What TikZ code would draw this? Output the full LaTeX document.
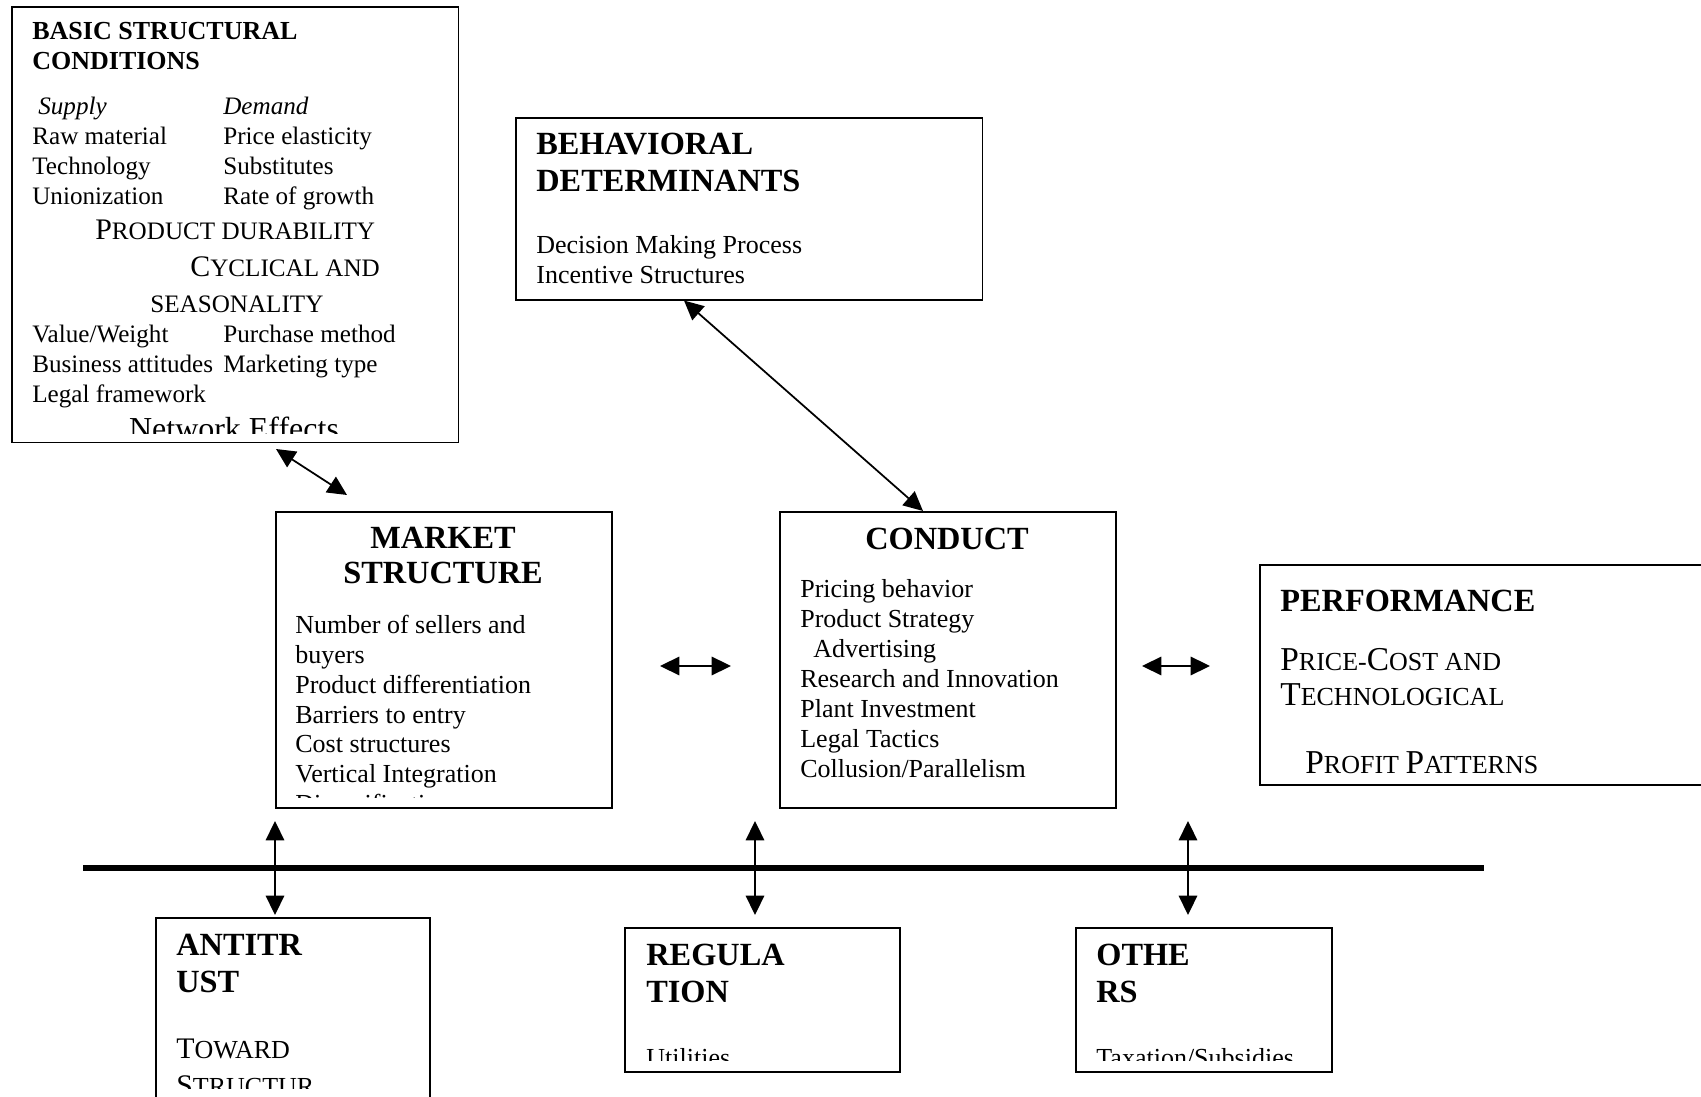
\documentclass[tikz,border=0pt]{standalone}
\usepackage{fontspec}
\setmainfont{Liberation Serif}
\usetikzlibrary{arrows.meta,calc}

\newcommand{\Bg}[1]{{\fontsize{17}{17}\selectfont #1}}
\newcommand{\BG}[1]{{\fontsize{19}{19}\selectfont #1}}

\begin{document}
\begin{tikzpicture}[x=0.02cm, y=-0.02cm,
    sbox/.style={draw, line width=0.9pt, anchor=north west, inner sep=0pt},
    hd/.style={font=\fontsize{18.4}{21}\selectfont\bfseries, anchor=base west, inner sep=0pt},
    hdc/.style={hd, anchor=base},
    hds/.style={font=\fontsize{14.8}{17}\selectfont\bfseries, anchor=base west, inner sep=0pt},
    tx/.style={font=\fontsize{14.8}{17}\selectfont, anchor=base west, inner sep=0pt},
    txs/.style={tx, font=\fontsize{14.3}{17}\selectfont},
    txi/.style={tx, font=\fontsize{14.3}{17}\selectfont\itshape},
    dbl/.style={{Triangle[length=11pt,width=10.5pt]}-{Triangle[length=11pt,width=10.5pt]}, line width=1pt}]

    \path[use as bounding box, clip] (0,0) rectangle (1701,1097);

    % boxes
    \node[sbox, minimum width=8.94cm, minimum height=8.72cm] (bsc) at (11,6) {};
    \node[sbox, minimum width=9.34cm, minimum height=3.64cm] (bd) at (515,117) {};
    \node[sbox, minimum width=6.72cm, minimum height=5.92cm] (ms) at (275,511) {};
    \node[sbox, minimum width=6.72cm, minimum height=5.92cm] (co) at (779,511) {};
    \node[sbox, minimum width=10.02cm, minimum height=4.40cm] (pf) at (1259,564) {};
    \node[sbox, minimum width=5.48cm, minimum height=4.06cm] (at) at (155,917) {};
    \node[sbox, minimum width=5.5cm, minimum height=2.88cm] (rg) at (624,927) {};
    \node[sbox, minimum width=5.12cm, minimum height=2.88cm] (ot) at (1075,927) {};

    % basic structural conditions
    \begin{scope}
        \clip (bsc.north west) rectangle ($(bsc.south east)+(0,-10)$);
        \node[hds] (bsc-h1) at (32,40) {BASIC STRUCTURAL};
        \node[hds] (bsc-h2) at (32,70) {CONDITIONS};
        \node[txi] (sup) at (38,115) {Supply};
        \node[txi] (dem) at (223,115) {Demand};
        \foreach \l/\r [count=\i] in {Raw material/Price elasticity, Technology/Substitutes, Unionization/Rate of growth} {
            \node[txs] (sup\i) at (32,115+30*\i) {\l};
            \node[txs] (dem\i) at (223,115+30*\i) {\r};
        }
        \node[txs] (dur) at (95,240) {\Bg{P}RODUCT DURABILITY};
        \node[txs] (cyc) at (190,277) {\Bg{C}YCLICAL AND};
        \node[txs] (sea) at (150,313) {SEASONALITY};
        \node[txs] (sup4) at (32,343) {Value/Weight};
        \node[txs] (dem4) at (223,343) {Purchase method};
        \node[txs] (sup5) at (32,373) {Business attitudes};
        \node[txs] (dem5) at (223,373) {Marketing type};
        \node[txs] (sup6) at (32,403) {Legal framework};
        \node[tx, font=\fontsize{18.2}{21}\selectfont, anchor=base] (net) at (234,440) {Network Effects};
    \end{scope}

    % behavioral determinants
    \node[hd] (bd-h1) at (536,155) {BEHAVIORAL};
    \node[hd] (bd-h2) at (536,192) {DETERMINANTS};
    \node[tx] (bd1) at (536,254) {Decision Making Process};
    \node[tx] (bd2) at (536,284) {Incentive Structures};

    % market structure
    \begin{scope}
        \clip (ms.north west) rectangle ($(ms.south east)+(0,-11)$);
        \node[hdc] (ms-h1) at (443,549) {MARKET};
        \node[hdc] (ms-h2) at (443,584) {STRUCTURE};
        \foreach \t [count=\i] in {Number of sellers and, buyers, Product differentiation, Barriers to entry, Cost structures, Vertical Integration, Diversification}
            \node[tx] (ms\i) at (295,604+29.8*\i) {\t};
    \end{scope}

    % conduct
    \node[hdc] (co-h) at (947,550) {CONDUCT};
    \foreach \t [count=\i] in {Pricing behavior, Product Strategy, ~~Advertising, Research and Innovation, Plant Investment, Legal Tactics, Collusion/Parallelism}
        \node[tx] (co\i) at (800,568+30*\i) {\t};

    % performance
    \node[hd] (pf-h) at (1280,612) {PERFORMANCE};
    \node[tx] (pf1) at (1280,671) {\BG{P}RICE-\BG{C}OST AND};
    \node[tx] (pf2) at (1280,706) {\BG{T}ECHNOLOGICAL};
    \node[tx] (pf3) at (1305,774) {\BG{P}ROFIT \BG{P}ATTERNS};

    % policy boxes
    \begin{scope}
        \clip (at.north west) rectangle (429,1088);
        \node[hd] (at-h1) at (176,955) {ANTITR};
        \node[hd] (at-h2) at (176,992) {UST};
        \node[tx] (at1) at (176,1058) {\Bg{T}OWARD};
        \node[tx] (at2) at (176,1095) {\Bg{S}TRUCTUR};
    \end{scope}
    \begin{scope}
        \clip (rg.north west) rectangle ($(ot.south east)+(0,-12)$);
        \node[hd] (rg-h1) at (646,965) {REGULA};
        \node[hd] (rg-h2) at (646,1002) {TION};
        \node[tx] (rg1) at (646,1066) {Utilities};
        \node[hd] (ot-h1) at (1096,965) {OTHE};
        \node[hd] (ot-h2) at (1096,1002) {RS};
        \node[tx] (ot1) at (1096,1066) {Taxation/Subsidies};
    \end{scope}

    % connectors
    \coordinate (bsc-a) at (276,449);
    \coordinate (ms-a) at (347,495);
    \draw[dbl] (bsc-a) -- (ms-a);
    \coordinate (bd-a) at ($(bd.south west)+(169,0)$);
    \coordinate (co-a) at ($(co.north west)+(144,0)$);
    \draw[dbl] (bd-a) -- (co-a);
    \coordinate (ms-r) at (660,666);
    \coordinate (co-l) at (731,666);
    \draw[dbl] (ms-r) -- (co-l);
    \coordinate (co-r) at (1142,666);
    \coordinate (pf-l) at (1210,666);
    \draw[dbl] (co-r) -- (pf-l);

    \coordinate (rule-l) at (83,868);
    \coordinate (rule-r) at (1484,868);
    \draw[line width=3.4pt] (rule-l) -- (rule-r);
    \foreach \x [count=\i] in {275,755,1188} {
        \coordinate (up\i) at (\x,821);
        \coordinate (dn\i) at (\x,915);
        \draw[dbl] (up\i) -- (dn\i);
    }
\end{tikzpicture}
\end{document}
